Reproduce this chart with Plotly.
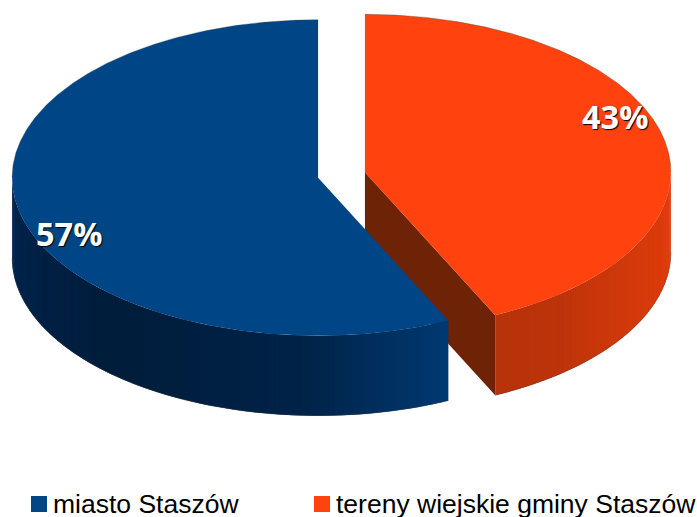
import numpy as np
import plotly.graph_objects as go

# Valeurs du graphique
categories = ["miasto Staszów", "tereny wiejskie gminy Staszów"]
shares = [57, 43]
top_colors = ["#004586", "#ff420e"]
inner_color = "#6e2206"

# Géométrie du camembert (pixels)
W, H = 697, 517
CX, CY = 341.5, 175
RX, RY = 306, 158
DEPTH = 80
EXPLODE = 24

# Ombrage des parois selon x
wall_x = {
    0: [12, 40, 110, 300, 447],
    1: [497, 560, 620, 671],
}
wall_rgb = {
    0: [(0, 36, 76), (0, 32, 68), (0, 29, 59), (0, 35, 72), (0, 58, 114)],
    1: [(184, 50, 10), (190, 52, 10), (208, 57, 11), (222, 60, 12)],
}


def shade(i, x):
    c = [np.interp(x, wall_x[i], [r[k] for r in wall_rgb[i]]) for k in range(3)]
    return "rgb(%d,%d,%d)" % tuple(c)


def poly(xs, ys, color):
    return go.Scatter(
        x=xs, y=ys, mode="lines", fill="toself", fillcolor=color,
        line=dict(color=color, width=0), hoverinfo="skip", showlegend=False,
    )


def rim(xs, ys):
    # liseré gris très léger sur le contour extérieur
    return go.Scatter(
        x=xs, y=ys, mode="lines", hoverinfo="skip", showlegend=False,
        line=dict(color="rgba(70,70,70,0.35)", width=1),
    )


# Angles mesurés depuis le haut, sens horaire : le segment orange commence à 0
orange_end = 360 * shares[1] / sum(shares)
spans = {1: (0, orange_end), 0: (orange_end, 360)}

fig = go.Figure()

for i in [1, 0]:  # orange derrière, bleu devant
    a0, a1 = spans[i]
    mid = np.radians((a0 + a1) / 2)
    cx = CX + EXPLODE * np.sin(mid)
    cy = CY - EXPLODE * np.cos(mid) * RY / RX
    t = np.radians(np.linspace(a0, a1, 721))
    ex = cx + RX * np.sin(t)
    ey = cy - RY * np.cos(t)

    # paroi extérieure : seulement la partie avant de l'ellipse
    front = np.where(np.cos(t) < 0.0)[0]
    step = 3
    # bandes qui se chevauchent pour éviter les joints visibles
    for j in front[:-step:step]:
        k = min(j + 2 * step, front[-1])
        fig.add_trace(poly(
            [ex[j], ex[k], ex[k], ex[j], ex[j]],
            [ey[j], ey[k], ey[k] + DEPTH, ey[j] + DEPTH, ey[j]],
            shade(i, (ex[j] + ex[k]) / 2),
        ))
    fig.add_trace(rim(ex[front], ey[front] + DEPTH))

    # paroi intérieure du segment orange
    if i == 1:
        fig.add_trace(poly(
            [cx, ex[-1], ex[-1], cx, cx],
            [cy, ey[-1], ey[-1] + DEPTH, cy + DEPTH, cy],
            inner_color,
        ))

    # face supérieure
    fig.add_trace(poly(
        np.r_[cx, ex, cx], np.r_[cy, ey, cy], top_colors[i],
    ))
    back = np.where(np.cos(t) >= 0.0)[0]
    fig.add_trace(rim(ex[back], ey[back]))

# Légende
for name, color, x in zip(categories, top_colors, [39, 322]):
    fig.add_trace(go.Scatter(
        x=[x], y=[504], mode="markers", hoverinfo="skip", showlegend=False,
        marker=dict(symbol="square", size=16, color=color),
    ))
    fig.add_annotation(
        x=x + 15, y=514, text=name, showarrow=False,
        xanchor="left", yanchor="bottom", yshift=-7, xshift=-3,
        font=dict(family="Liberation Sans", size=26.5, color="#000000"),
    )

# Étiquettes de pourcentage
for value, x, y in zip(shares, [69, 615], [233, 116]):
    fig.add_annotation(
        x=x, y=y, text=f"{value}%", showarrow=False,
        font=dict(family="Open Sans", size=32.5, color="white", weight="bold",
                  shadow="1px 1px 1px #000000"),
    )

fig.update_layout(
    width=W, height=H,
    margin=dict(l=0, r=0, t=0, b=0),
    paper_bgcolor="white", plot_bgcolor="white",
    showlegend=False,
    xaxis=dict(range=[0, W], visible=False, fixedrange=True),
    yaxis=dict(range=[H, 0], visible=False, fixedrange=True),
)

fig.write_html(
    "out.html",
    config={"displayModeBar": False},
    post_script="document.body.style.margin='0';",
)
